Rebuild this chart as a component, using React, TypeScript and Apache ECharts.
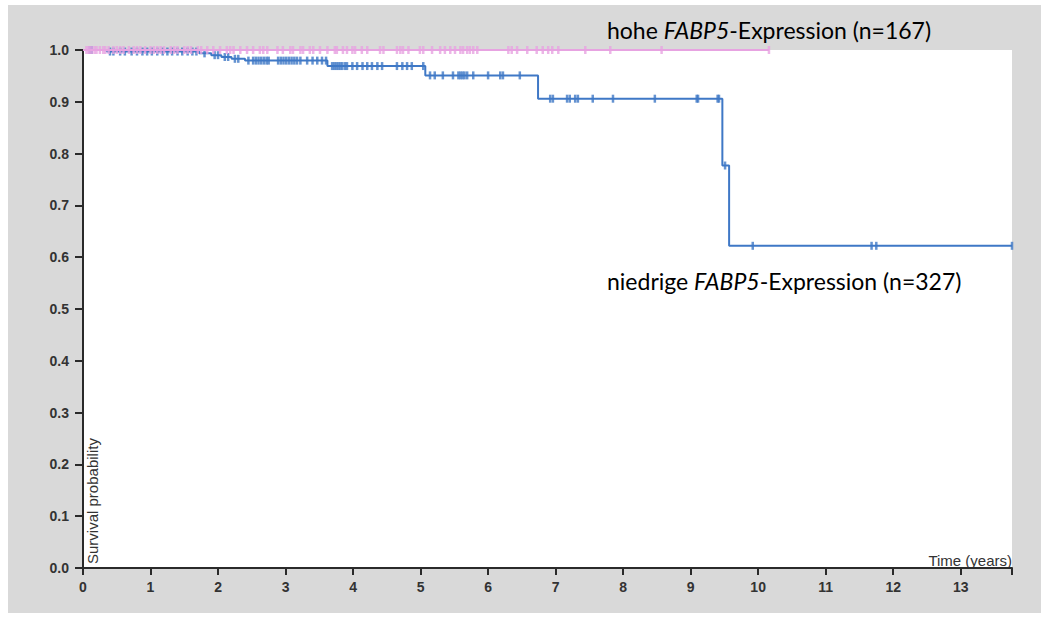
import React, { useEffect, useRef } from "react";
import * as echarts from "echarts";

// Kaplan-Meier steps (time in years, survival after event)
const lowTimes = [0, 0.35, 1.72, 1.9, 2.05, 2.2, 2.4, 3.62, 5.07, 6.74, 9.47, 9.57];
const lowSurv = [1.0, 0.997, 0.9935, 0.99, 0.9865, 0.983, 0.9795, 0.969, 0.951, 0.906, 0.777, 0.622];
const lowEnd = 13.76;
const lowCensor = [
  0.1, 0.13, 0.4, 0.45, 0.55, 0.62, 0.72, 0.8, 0.88, 0.95, 1.02, 1.1, 1.18, 1.25, 1.32, 1.4, 1.47, 1.55,
  1.62, 1.68, 1.8, 1.95, 2.0, 2.1, 2.15, 2.25, 2.3, 2.45, 2.52, 2.56, 2.6, 2.64, 2.68, 2.72, 2.75, 2.89,
  2.93, 2.97, 3.01, 3.05, 3.09, 3.13, 3.17, 3.22, 3.32, 3.4, 3.47, 3.54, 3.6, 3.69, 3.72, 3.75, 3.78, 3.81,
  3.84, 3.88, 3.91, 3.99, 4.06, 4.14, 4.21, 4.28, 4.36, 4.43, 4.65, 4.73, 4.8, 4.87, 5.04, 5.14, 5.21,
  5.33, 5.48, 5.56, 5.59, 5.62, 5.65, 5.69, 5.78, 6.0, 6.18, 6.22, 6.47, 6.92, 6.96, 7.17, 7.21, 7.29,
  7.33, 7.55, 7.85, 8.47, 9.09, 9.11, 9.4, 9.42, 9.51, 9.92, 11.68, 11.75, 13.76,
];

const highTimes = [0];
const highSurv = [1.0];
const highEnd = 10.16;
const highCensor = [
  0.05, 0.08, 0.1, 0.13, 0.17, 0.2, 0.25, 0.3, 0.33, 0.38, 0.45, 0.5, 0.55, 0.6, 0.68, 0.75, 0.8, 0.85,
  0.92, 1.0, 1.05, 1.1, 1.15, 1.2, 1.3, 1.35, 1.4, 1.5, 1.55, 1.6, 1.7, 1.75, 1.84, 1.93, 2.03, 2.13,
  2.18, 2.23, 2.33, 2.43, 2.52, 2.62, 2.67, 2.73, 2.88, 2.96, 3.07, 3.11, 3.22, 3.26, 3.36, 3.41, 3.51,
  3.62, 3.73, 3.76, 3.85, 3.91, 3.99, 4.03, 4.13, 4.21, 4.4, 4.45, 4.65, 4.7, 4.74, 4.82, 4.99, 5.04,
  5.17, 5.29, 5.36, 5.44, 5.51, 5.59, 5.63, 5.69, 5.73, 5.78, 5.84, 6.3, 6.35, 6.43, 6.58, 6.72, 6.81,
  6.89, 6.95, 7.04, 7.44, 7.81, 8.57, 10.16,
];

const xTicks = [0, 1, 2, 3, 4, 5, 6, 7, 8, 9, 10, 11, 12, 13];
const xMax = 13.76;

const highLabel = { pre: "hohe ", gene: "FABP5", post: "-Expression (n=167)" };
const lowLabel = { pre: "niedrige ", gene: "FABP5", post: "-Expression (n=327)" };

function survAt(times: number[], surv: number[], t: number) {
  let s = surv[0];
  for (let i = 0; i < times.length; i++) if (times[i] <= t) s = surv[i];
  return s;
}

function stepData(times: number[], surv: number[], end: number) {
  const d: number[][] = times.map((t, i) => [t, surv[i]]);
  d.push([end, surv[surv.length - 1]]);
  return d;
}

const BLUE = "#3f78c6";
const PINK = "#e7a3e1";
const AXIS = "#2a2a2a";
const TXT = "#333";

export default function App() {
  const ref = useRef<HTMLDivElement>(null);
  useEffect(() => {
    if (!ref.current) return;
    const chart = echarts.init(ref.current, undefined, { renderer: "svg" });
    const labelFont = { fontFamily: "Liberation Sans", fontSize: 14, fontWeight: "bold" as const, color: TXT };
    const legendRich = {
      n: { fontFamily: "Lato", fontSize: 23, color: "#111" },
      i: { fontFamily: "Lato", fontSize: 23, fontStyle: "italic", color: "#111" },
    };
    chart.setOption({
      animation: false,
      backgroundColor: "transparent",
      grid: { left: 83, right: 29, top: 50, bottom: 55, show: true, backgroundColor: "#fff", borderWidth: 0 },
      xAxis: {
        type: "value",
        min: 0,
        max: xMax,
        interval: 1,
        splitLine: { show: false },
        axisLine: { show: true, onZero: false, lineStyle: { color: AXIS, width: 2 } },
        axisTick: { show: true, length: 7, customValues: [...xTicks, xMax], lineStyle: { color: AXIS, width: 2 } },
        axisLabel: { ...labelFont, margin: 12, customValues: xTicks, formatter: (v: number) => String(v) },
      },
      yAxis: {
        type: "value",
        min: 0,
        max: 1,
        interval: 0.1,
        splitLine: { show: false },
        axisLine: { show: true, lineStyle: { color: AXIS, width: 2 } },
        axisTick: { show: true, length: 8, lineStyle: { color: AXIS, width: 2 } },
        axisLabel: { ...labelFont, margin: 14, formatter: (v: number) => v.toFixed(1) },
      },
      series: [
        {
          type: "line",
          step: "end",
          data: stepData(lowTimes, lowSurv, lowEnd),
          showSymbol: false,
          clip: false,
          lineStyle: { color: BLUE, width: 2 },
          z: 2,
        },
        {
          type: "scatter",
          data: lowCensor.map((t) => [t, survAt(lowTimes, lowSurv, t)]),
          symbol: "rect",
          symbolSize: [2.5, 8],
          clip: false,
          itemStyle: { color: BLUE },
          z: 3,
        },
        {
          type: "line",
          step: "end",
          data: stepData(highTimes, highSurv, highEnd),
          showSymbol: false,
          clip: false,
          lineStyle: { color: PINK, width: 2 },
          z: 4,
        },
        {
          type: "scatter",
          data: highCensor.map((t) => [t, survAt(highTimes, highSurv, t)]),
          symbol: "rect",
          symbolSize: [2.5, 8],
          clip: false,
          itemStyle: { color: PINK },
          z: 5,
        },
      ],
      graphic: [
        {
          type: "text",
          x: 92,
          y: 564,
          rotation: Math.PI / 2,
          style: {
            text: "Survival probability",
            fontFamily: "Liberation Sans",
            fontSize: 15,
            fill: TXT,
            textAlign: "left",
            textVerticalAlign: "middle",
          },
        },
        {
          type: "text",
          x: 1012,
          y: 560,
          style: {
            text: "Time (years)",
            fontFamily: "Liberation Sans",
            fontSize: 15,
            fill: TXT,
            textAlign: "right",
            textVerticalAlign: "middle",
          },
        },
        {
          type: "text",
          x: 607,
          y: 30,
          style: {
            text: `{n|${highLabel.pre}}{i|${highLabel.gene}}{n|${highLabel.post}}`,
            rich: legendRich,
            textAlign: "left",
            textVerticalAlign: "middle",
          },
        },
        {
          type: "text",
          x: 607,
          y: 281,
          style: {
            text: `{n|${lowLabel.pre}}{i|${lowLabel.gene}}{n|${lowLabel.post}}`,
            rich: legendRich,
            textAlign: "left",
            textVerticalAlign: "middle",
          },
        },
      ],
    });
    return () => chart.dispose();
  }, []);
  return (
    <div style={{ position: "absolute", left: 0, top: 0, width: 1041, height: 623, background: "#fff" }}>
      <div style={{ position: "absolute", left: 8, top: 5, width: 1033, height: 608, background: "#d9d9d9" }} />
      <div ref={ref} style={{ position: "absolute", left: 0, top: 0, width: 1041, height: 623 }} />
    </div>
  );
}
